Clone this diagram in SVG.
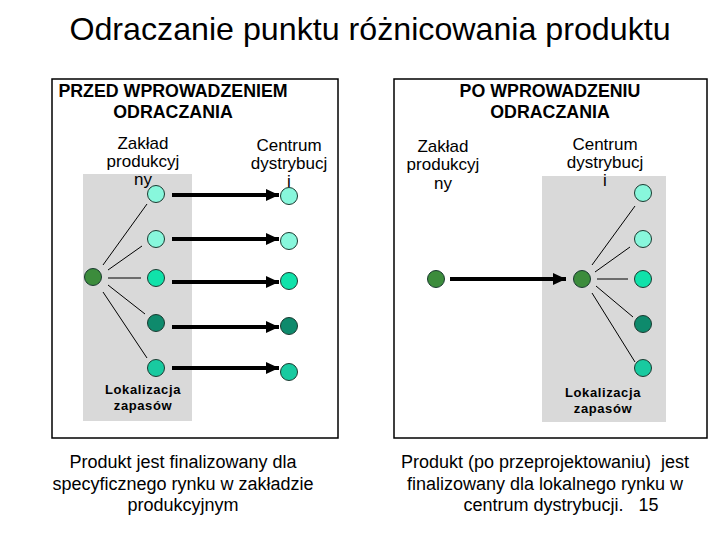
<svg xmlns="http://www.w3.org/2000/svg" width="720" height="540" viewBox="0 0 720 540">
<defs>
<marker id="ah" markerWidth="13" markerHeight="12" refX="13" refY="6" orient="auto" markerUnits="userSpaceOnUse">
<path d="M0,0 L13,6 L0,12 Z" fill="#000"/>
</marker>
<style>
text{font-family:"Liberation Sans",Arial,sans-serif;fill:#000;text-anchor:middle}
.title{font-size:32.2px}
.hd{font-size:17.8px;font-weight:bold}
.lb{font-size:17px}
.lok{font-size:13px;font-weight:bold;letter-spacing:0.6px}
.bt{font-size:18px}
.panel{fill:#fff;stroke:#000;stroke-width:1.5}
.gray{fill:#d9d9d9}
circle{stroke:#1a3a30;stroke-width:1}
.c1{fill:#88f7dc}
.c3{fill:#10e2aa}
.c4{fill:#0e8a6c}
.c5{fill:#18caa0}
.f{fill:#3c8c3c}
.thin{stroke:#000;stroke-width:1;fill:none}
.arr{stroke:#000;stroke-width:4;fill:none;marker-end:url(#ah)}
</style>
</defs>
<rect width="720" height="540" fill="#fff"/>
<text class="title" x="370" y="40">Odraczanie punktu różnicowania produktu</text>

<g id="panel-left">
<rect class="panel" x="52" y="79" width="286" height="359"/>
<rect class="gray" x="83" y="174" width="109" height="247"/>
<text class="hd" x="173" y="97">PRZED WPROWADZENIEM</text>
<text class="hd" x="173" y="118">ODRACZANIA</text>
</g>
<g id="panel-right">
<rect class="panel" x="394" y="79" width="313" height="359"/>
<rect class="gray" x="542" y="176" width="124" height="246"/>
<text class="hd" x="550" y="97">PO WPROWADZENIU</text>
<text class="hd" x="550" y="118">ODRACZANIA</text>
</g>

<g id="labels-left">
<text class="lb" x="143" y="149">Zakład</text>
<text class="lb" x="143" y="167">produkcyj</text>
<text class="lb" x="143" y="185">ny</text>
<text class="lb" x="289" y="151">Centrum</text>
<text class="lb" x="289" y="169">dystrybucj</text>
<text class="lb" x="289" y="187">i</text>
<text class="lok" x="143" y="394">Lokalizacja</text>
<text class="lok" x="143" y="410">zapasów</text>
</g>
<g id="labels-right">
<text class="lb" x="443" y="152">Zakład</text>
<text class="lb" x="443" y="170">produkcyj</text>
<text class="lb" x="443" y="189">ny</text>
<text class="lb" x="605" y="150">Centrum</text>
<text class="lb" x="605" y="168">dystrybucj</text>
<text class="lb" x="605" y="186">i</text>
<text class="lok" x="603" y="397">Lokalizacja</text>
<text class="lok" x="603" y="413">zapasów</text>
</g>

<g id="connectors">
<line class="thin" x1="103" y1="265" x2="147" y2="204"/>
<line class="thin" x1="108" y1="270" x2="142" y2="246"/>
<line class="thin" x1="108" y1="278" x2="141" y2="278"/>
<line class="thin" x1="108" y1="285" x2="145" y2="314"/>
<line class="thin" x1="103" y1="292" x2="147" y2="358"/>
<line class="arr" x1="172" y1="195" x2="279" y2="195"/>
<line class="arr" x1="172" y1="239" x2="279" y2="239"/>
<line class="arr" x1="172" y1="282" x2="279" y2="282"/>
<line class="arr" x1="172" y1="327" x2="279" y2="327"/>
<line class="arr" x1="172" y1="368" x2="279" y2="368"/>
<line class="arr" x1="450" y1="279" x2="566" y2="279"/>
<line class="thin" x1="592" y1="265" x2="635" y2="206"/>
<line class="thin" x1="595" y1="272" x2="630" y2="247"/>
<line class="thin" x1="597" y1="279" x2="628" y2="279"/>
<line class="thin" x1="596" y1="286" x2="633" y2="317"/>
<line class="thin" x1="592" y1="293" x2="635" y2="362"/>
</g>

<g id="nodes-left">
<circle id="L-factory" class="f" cx="93" cy="277" r="8.5"/>
<circle id="L-s1" class="c1" cx="156" cy="194" r="8.5"/>
<circle id="L-s2" class="c1" cx="156" cy="239" r="8.5"/>
<circle id="L-s3" class="c3" cx="156" cy="278" r="8.5"/>
<circle id="L-s4" class="c4" cx="156" cy="323" r="8.5"/>
<circle id="L-s5" class="c5" cx="156" cy="368" r="8.5"/>
<circle id="L-d1" class="c1" cx="289" cy="196" r="8.5"/>
<circle id="L-d2" class="c1" cx="289" cy="241" r="8.5"/>
<circle id="L-d3" class="c3" cx="289" cy="281" r="8.5"/>
<circle id="L-d4" class="c4" cx="289" cy="326" r="8.5"/>
<circle id="L-d5" class="c5" cx="289" cy="372" r="8.5"/>
</g>
<g id="nodes-right">
<circle id="R-factory" class="f" cx="436" cy="279" r="8.5"/>
<circle id="R-dc" class="f" cx="582" cy="279" r="8.5"/>
<circle id="R-s1" class="c1" cx="643" cy="193" r="8.5"/>
<circle id="R-s2" class="c1" cx="643" cy="239" r="8.5"/>
<circle id="R-s3" class="c3" cx="643" cy="279" r="8.5"/>
<circle id="R-s4" class="c4" cx="643" cy="324" r="8.5"/>
<circle id="R-s5" class="c5" cx="643" cy="368" r="8.5"/>
</g>

<g id="captions">
<text class="bt" x="183" y="468">Produkt jest finalizowany dla</text>
<text class="bt" x="183" y="490">specyficznego rynku w zakładzie</text>
<text class="bt" x="183" y="511">produkcyjnym</text>
<text class="bt" x="545" y="468" xml:space="preserve">Produkt (po przeprojektowaniu)  jest</text>
<text class="bt" x="545" y="490">finalizowany dla lokalnego rynku w</text>
<text class="bt" x="561" y="511" xml:space="preserve">centrum dystrybucji.   15</text>
</g>
</svg>
